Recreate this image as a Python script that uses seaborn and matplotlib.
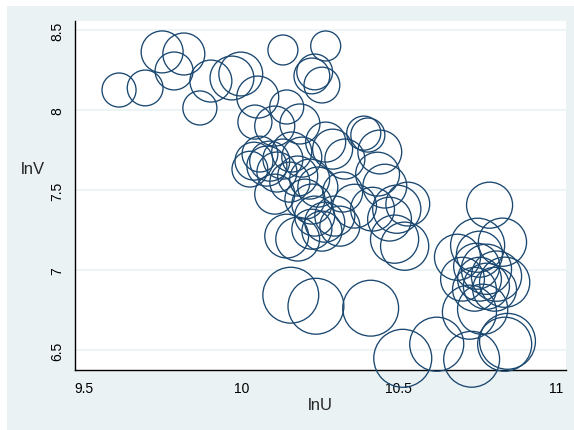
import matplotlib
matplotlib.use("Agg")
import matplotlib.pyplot as plt
import seaborn as sns
import pandas as pd
from matplotlib.patches import Rectangle

# ---- data ----
lnU = [9.611, 9.694, 9.748, 9.817, 9.786, 9.868, 9.903, 9.970, 9.998, 10.052,
       10.132, 10.268, 10.224, 10.233, 10.256, 10.144, 10.043, 10.059, 10.106, 10.186,
       10.268, 10.290, 10.090, 10.132, 10.160, 10.192, 10.081, 10.113, 10.179, 10.217,
       10.243, 10.106, 10.154, 10.202, 10.224, 10.233, 10.144, 10.179, 10.224, 10.265,
       10.256, 10.297, 10.040, 10.027, 10.389, 10.402, 10.440, 10.433, 10.456, 10.529,
       10.494, 10.417, 10.360, 10.322, 10.487, 10.519, 10.313, 10.329, 10.471, 10.157,
       10.237, 10.411, 10.513, 10.621, 10.789, 10.830, 10.687, 10.751, 10.757, 10.748,
       10.779, 10.811, 10.837, 10.757, 10.779, 10.805, 10.741, 10.725, 10.767, 10.846,
       10.837, 10.732, 10.703]
lnV = [8.125, 8.138, 8.363, 8.350, 8.244, 8.013, 8.181, 8.200, 8.225, 8.081,
       8.375, 8.400, 8.213, 8.238, 8.156, 8.019, 7.925, 7.725, 7.900, 7.913,
       7.800, 7.756, 7.681, 7.694, 7.738, 7.706, 7.650, 7.613, 7.588, 7.569,
       7.519, 7.475, 7.550, 7.444, 7.413, 7.338, 7.213, 7.194, 7.256, 7.300,
       7.244, 7.338, 7.681, 7.631, 7.856, 7.844, 7.738, 7.600, 7.525, 7.413,
       7.381, 7.381, 7.400, 7.488, 7.194, 7.150, 7.275, 7.694, 7.319, 6.844,
       6.775, 6.763, 6.450, 6.538, 7.406, 7.175, 7.081, 7.156, 7.100, 7.025,
       7.006, 6.963, 6.925, 6.944, 6.900, 6.881, 6.881, 6.738, 6.756, 6.556,
       6.538, 6.444, 6.944]
weight = [2.9, 3.2, 4.4, 4.4, 3.6, 2.9, 4.4, 4.8, 4.8, 4.4,
          2.25, 2.25, 3.2, 3.2, 3.2, 2.9, 2.9, 3.2, 4.0, 4.0,
          4.0, 4.0, 4.0, 4.0, 4.0, 4.0, 4.0, 4.0, 4.0, 4.0,
          4.0, 4.0, 4.0, 4.0, 4.0, 4.0, 4.8, 4.8, 4.0, 4.0,
          4.0, 4.0, 3.6, 3.2, 2.9, 2.9, 4.8, 4.8, 4.8, 4.8,
          5.8, 4.8, 4.8, 4.0, 5.8, 5.8, 4.0, 4.0, 4.8, 7.8,
          7.8, 7.8, 8.4, 7.3, 5.3, 5.8, 5.3, 7.3, 5.3, 5.3,
          6.3, 6.3, 6.3, 4.8, 5.3, 4.8, 4.8, 7.3, 6.3, 7.8,
          7.3, 7.8, 4.8]
xticks = [9.5, 10, 10.5, 11]
xticklabels = ["9.5", "10", "10.5", "11"]
yticks = [6.5, 7, 7.5, 8, 8.5]
yticklabels = ["6.5", "7", "7.5", "8", "8.5"]

df = pd.DataFrame({"lnU": lnU, "lnV": lnV, "w": weight})

sns.set_style("white")
plt.rcParams["font.family"] = ["Liberation Sans", "DejaVu Sans"]

W, H = 574, 431
fig = plt.figure(figsize=(W / 100, H / 100), dpi=100, facecolor="white")
fig.patches.append(Rectangle((7 / W, 0), 1 - 7 / W, (H - 7) / H,
                             transform=fig.transFigure, facecolor="#eaf2f3",
                             edgecolor="none", zorder=-10))
ax = fig.add_axes([75 / W, 60 / H, 491 / W, 349 / H])
ax.set_facecolor("white")

k = 207.36  # area scale (points^2 per weight unit)
sns.scatterplot(data=df, x="lnU", y="lnV", size="w",
                sizes=(min(weight) * k, max(weight) * k),
                facecolor="none", edgecolor="#1a476f", linewidth=0.95,
                legend=False, clip_on=False, ax=ax, zorder=3)

ax.set_xlim(9.471, 11.032)
ax.set_ylim(6.377, 8.556)
ax.set_xticks(xticks)
ax.set_xticklabels(xticklabels)
ax.set_yticks(yticks)
ax.set_yticklabels(yticklabels, rotation=90, va="center")
ax.tick_params(direction="out", length=5, width=1, color="black",
               labelsize=10, pad=3, labelcolor="black")
ax.yaxis.grid(True, color="#eaf2f3", lw=1.2)
ax.xaxis.grid(False)
ax.set_axisbelow(True)
for s in ["top", "right"]:
    ax.spines[s].set_visible(False)
for s in ["left", "bottom"]:
    ax.spines[s].set_color("black")
    ax.spines[s].set_linewidth(1)

ax.set_xlabel("lnU", fontsize=12, va="center")
ax.xaxis.set_label_coords(0.5, -0.10)
ax.set_ylabel("lnV", fontsize=12, rotation=0, va="center", ha="center")
ax.yaxis.set_label_coords(-0.0855, 0.576)

fig.savefig("out.png", dpi=100, facecolor=fig.get_facecolor())
